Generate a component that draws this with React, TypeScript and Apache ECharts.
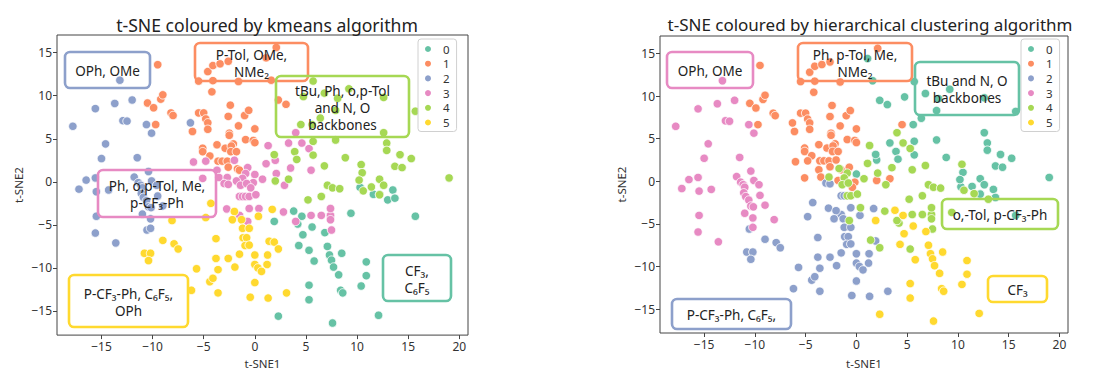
import React, { useEffect, useRef } from 'react';
import * as echarts from 'echarts';

// each point: [t-SNE1, t-SNE2, hierarchical cluster label]
type P = [number, number, number];

const clusterNames = ['0', '1', '2', '3', '4', '5'];
const colors = ['#66c2a5', '#fc8d62', '#8da0cb', '#e78ac3', '#a6d854', '#ffd92f'];
const xTicks = [-15, -10, -5, 0, 5, 10, 15, 20];
const yTicks = [-15, -10, -5, 0, 5, 10, 15];

// kmeans cluster 0
const km0: P[] = [
  [10.3, -0.65, 0], [11.6, -1.45, 4], [12.2, -1.45, 0], [13.0, -2.1, 4], [13.5, -0.95, 0],
  [13.7, -1.9, 0], [15.7, -4.0, 0], [9.4, -3.65, 4], [3.8, -3.4, 5], [4.6, -4.0, 5],
  [1.9, -4.6, 5], [5.6, -5.25, 5], [6.85, -5.9, 5], [4.2, -4.9, 4], [4.3, -7.4, 5],
  [4.7, -6.15, 5], [5.3, -7.95, 4], [5.8, -9.2, 5], [7.1, -7.5, 5], [7.3, -8.5, 5],
  [7.5, -9.1, 5], [7.7, -9.9, 5], [8.2, -10.8, 5], [8.5, -8.3, 5], [8.4, -12.6, 5],
  [8.6, -12.9, 5], [5.3, -12.0, 5], [5.3, -13.7, 5], [2.3, -15.6, 5], [7.6, -16.4, 5],
  [10.9, -9.3, 5], [10.9, -10.9, 5], [10.4, -12.1, 5], [12.1, -15.5, 5],
];

// kmeans cluster 1
const km1: P[] = [
  [-9.5, 13.6, 1], [-5.5, 11.7, 1], [-4.6, 12.8, 1], [-4.1, 13.5, 1], [-3.4, 13.7, 1],
  [-2.6, 14.0, 1], [-4.1, 11.75, 1], [-4.2, 10.45, 1], [-1.6, 11.65, 1], [1.1, 14.4, 0],
  [2.1, 15.6, 1], [1.6, 11.8, 0], [2.3, 9.5, 0], [3.05, 9.0, 0], [-10.5, 9.15, 1],
  [-9.9, 8.6, 1], [-9.2, 9.6, 1], [-9.0, 10.1, 1], [-8.2, 8.0, 1], [-8.0, 7.7, 1],
  [-9.7, 6.65, 1], [-6.1, 5.85, 1], [-5.5, 8.0, 1], [-5.0, 8.0, 1], [-4.8, 7.3, 1],
  [-4.6, 6.85, 1], [-4.6, 6.1, 1], [-2.6, 7.6, 1], [-2.4, 8.9, 1], [-1.6, 6.5, 1],
  [-1.0, 7.7, 1], [-0.6, 8.3, 1], [0.0, 6.15, 1], [-2.5, 5.65, 1], [-2.5, 5.4, 1],
  [-2.1, 4.4, 1], [-3.7, 4.3, 1], [-5.1, 3.9, 1], [-5.1, 3.5, 1], [-4.4, 3.0, 1],
  [-2.9, 3.9, 1], [-2.3, 4.15, 1], [-2.35, 3.5, 1], [-1.8, 3.5, 1], [-0.9, 4.9, 1],
  [-0.15, 4.8, 1], [0.0, 4.55, 1], [-3.6, 2.4, 1], [-3.2, 2.4, 1], [-2.7, 2.4, 1],
  [-2.6, 1.7, 1], [-1.7, 1.5, 4], [-1.5, 1.35, 1],
];

// kmeans cluster 2
const km2: P[] = [
  [-13.2, 11.8, 3], [-15.6, 8.5, 3], [-13.7, 9.1, 3], [-12.0, 9.5, 3], [-17.8, 6.45, 3],
  [-12.9, 7.1, 3], [-12.5, 7.05, 3], [-10.6, 6.65, 3], [-10.1, 5.65, 3], [-6.3, 6.85, 1],
  [-15.0, 2.7, 3], [-14.6, 4.4, 3], [-11.5, 2.8, 3], [-16.5, 0.2, 3], [-15.6, 0.45, 3],
  [-17.2, -0.85, 3], [-15.5, -1.15, 3], [-14.3, -0.95, 3], [-15.5, -4.0, 3], [-15.6, -5.95, 3],
  [-13.6, -7.1, 3], [-10.55, -5.6, 2], [-10.2, -5.4, 3], [-11.8, 0.55, 3], [-11.4, -0.1, 3],
  [-11.15, -0.4, 3], [-11.0, -0.7, 3], [-11.1, -1.35, 3], [-10.9, -1.8, 3], [-10.6, -2.2, 3],
  [-10.4, -2.9, 3], [-10.15, -3.0, 3], [-11.0, -3.75, 3], [-10.2, -4.3, 3], [-10.4, 1.2, 3],
  [-10.1, 0.1, 3], [-9.6, -0.4, 3], [-9.5, -1.65, 3], [-9.0, -2.8, 3],
];

// kmeans cluster 3
const km3: P[] = [
  [-6.0, 2.3, 1], [-4.8, 2.4, 1], [-3.7, 1.35, 1], [-2.0, 2.5, 1], [-0.7, 1.65, 1],
  [1.3, 4.2, 4], [1.1, 2.1, 4], [2.0, 2.5, 0], [3.3, 4.5, 0], [4.0, 5.7, 4],
  [4.6, 4.5, 4], [5.3, 3.85, 4], [5.5, 1.35, 4], [3.5, 1.6, 4], [2.1, 0.96, 4],
  [-0.9, 0.96, 4], [0.0, 0.85, 0], [-1.2, 0.4, 4], [-0.15, -0.1, 1], [-5.1, 0.4, 1],
  [-3.5, 0.5, 1], [-2.7, 0.5, 4], [-3.0, -0.2, 2], [-2.6, -0.3, 2], [-1.8, 0.1, 1],
  [-1.4, -0.4, 4], [-0.8, -0.2, 4], [0.75, 0.3, 4], [2.9, -0.4, 4], [-0.4, -0.7, 1],
  [-1.5, -1.7, 2], [-1.2, -1.7, 2], [-0.9, -1.7, 4], [-0.55, -1.7, 4], [0.1, -1.5, 4],
  [-2.75, -3.15, 2], [-0.55, -3.1, 2], [0.4, -3.1, 4], [-1.5, -3.9, 2], [-0.7, -4.6, 4],
  [2.8, -3.5, 4], [4.0, -4.6, 4], [5.5, -3.9, 4], [6.5, -3.9, 4], [7.4, -3.9, 4],
  [7.4, -4.4, 4], [7.4, -3.1, 4], [7.5, -5.6, 4],
];

// kmeans cluster 4
const km4: P[] = [
  [5.7, 11.7, 0], [4.75, 9.9, 0], [6.8, 10.3, 0], [8.1, 9.7, 0], [9.2, 10.8, 0],
  [12.6, 9.8, 0], [15.7, 8.2, 0], [6.4, 7.4, 0], [7.9, 8.3, 0], [4.5, 6.65, 1],
  [5.6, 6.65, 0], [1.9, 3.15, 0], [2.0, 0.1, 1], [3.3, 0.3, 1], [3.9, 3.5, 0],
  [4.1, 2.6, 0], [5.7, 3.1, 0], [5.7, 4.7, 0], [7.9, 4.85, 0], [8.85, 2.8, 0],
  [6.8, 1.85, 4], [7.1, -0.4, 4], [7.6, -0.7, 4], [8.3, -0.8, 4], [6.5, -1.7, 4],
  [5.2, -2.1, 4], [10.4, 2.0, 4], [10.5, 1.05, 0], [10.2, 0.2, 0], [10.6, -1.05, 4],
  [11.4, -0.6, 0], [12.2, 0.3, 0], [12.6, -0.4, 0], [12.2, -1.5, 0], [12.6, 5.7, 0],
  [12.9, 4.5, 0], [12.9, 3.65, 0], [14.2, 3.15, 0], [15.3, 2.7, 0], [13.7, 1.8, 0],
  [14.4, 1.65, 0], [19.0, 0.45, 0],
];

// kmeans cluster 5
const km5: P[] = [
  [-4.3, -2.5, 2], [-4.8, -4.15, 2], [-8.1, -4.5, 3], [-2.0, -3.45, 2], [-2.2, -4.4, 2],
  [-1.3, -4.4, 2], [0.35, -4.0, 2], [1.7, -3.2, 2], [-9.0, -6.8, 2], [-7.9, -7.2, 2],
  [-7.5, -7.8, 2], [-10.8, -8.3, 2], [-10.2, -8.3, 2], [-10.4, -9.15, 2], [-5.7, -10.1, 2],
  [-6.2, -12.6, 2], [-4.4, -11.6, 2], [-4.1, -11.2, 2], [-3.6, -10.2, 2], [-3.6, -12.9, 2],
  [-3.8, -8.9, 2], [-3.8, -6.6, 2], [-2.6, -8.9, 2], [-1.95, -9.9, 2], [-1.5, -8.4, 2],
  [-1.15, -6.5, 2], [-0.8, -6.5, 2], [-0.95, -7.4, 2], [-0.55, -7.35, 2], [0.0, -8.5, 2],
  [0.0, -9.6, 2], [0.3, -10.0, 2], [0.65, -10.4, 2], [0.0, -11.7, 2], [-0.45, -13.4, 2],
  [1.25, -8.5, 2], [1.2, -9.6, 2], [1.3, -13.5, 2], [1.4, -6.9, 4], [1.9, -7.0, 2],
  [2.3, -7.8, 4], [3.1, -12.9, 2], [-1.2, -5.4, 2], [-0.55, -5.4, 2],
];

const kmeansClusters = [km0, km1, km2, km3, km4, km5];

const leftTitle = 't-SNE coloured by kmeans algorithm';
const rightTitle = 't-SNE coloured by hierarchical clustering algorithm';
const xName = 't-SNE1';
const yName = 't-SNE2';

// annotation texts and the cluster colour of their frame
const leftNotes: [string, number][] = [
  ['OPh, OMe', 2],
  ['P-Tol, OMe,\nNMe₂', 1],
  ['tBu, Ph, o,p-Tol\nand N, O\nbackbones', 4],
  ['Ph, o,p-Tol, Me,\np-CF₃-Ph', 3],
  ['P-CF₃-Ph, C₆F₅,\nOPh', 5],
  ['CF₃,\nC₆F₅', 0],
];
const rightNotes: [string, number][] = [
  ['OPh, OMe', 3],
  ['Ph, p-Tol, Me,\nNMe₂', 1],
  ['tBu and N, O\nbackbones', 0],
  ['o,-Tol, p-CF₃-Ph', 4],
  ['P-CF₃-Ph, C₆F₅,', 2],
  ['CF₃', 5],
];

// layout of annotation frames (pixels): x, y, w, h
const leftBoxes = [
  [65, 52, 85, 36], [195, 43, 113, 38], [276, 76, 133, 61],
  [98, 170, 118, 47], [69, 275, 119, 52], [383, 255, 68, 46],
];
const rightBoxes = [
  [667, 52, 86, 36], [798, 43, 114, 38], [915, 62, 104, 53],
  [942, 199, 116, 30], [672, 299, 119, 30], [988, 276, 59, 26],
];

const FONT = '"Noto Sans", "DejaVu Sans", sans-serif';
const fmt = (v: number) => (v < 0 ? '\u2212' + Math.abs(v) : String(v));

function axisX(gridIndex: number, gap: number) {
  return {
    type: 'value', gridIndex, min: -19.35, max: 20.85,
    axisLine: { show: false, onZero: false },
    axisTick: { show: true, length: 4, customValues: xTicks, lineStyle: { color: '#444' } },
    axisLabel: { customValues: xTicks, formatter: fmt, fontSize: 12, color: '#333', margin: 5, fontFamily: FONT },
    splitLine: { show: false },
    name: xName, nameLocation: 'middle', nameGap: gap,
    nameTextStyle: { fontSize: 11.5, color: '#333', fontFamily: FONT },
  };
}
function axisY(gridIndex: number) {
  return {
    type: 'value', gridIndex, min: -17.8, max: 17.05,
    axisLine: { show: false, onZero: false },
    axisTick: { show: true, length: 4, customValues: yTicks, lineStyle: { color: '#444' } },
    axisLabel: { customValues: yTicks, formatter: fmt, fontSize: 12, color: '#333', margin: 5, fontFamily: FONT },
    splitLine: { show: false },
    name: yName, nameLocation: 'middle', nameGap: 33,
    nameTextStyle: { fontSize: 11.5, color: '#333', fontFamily: FONT },
  };
}

function notesGraphic(notes: [string, number][], boxes: number[][]) {
  const out: any[] = [];
  notes.forEach(([text, c], i) => {
    const [x, y, w, h] = boxes[i];
    out.push({
      type: 'rect', z: 100,
      shape: { x, y, width: w, height: h, r: 5 },
      style: { fill: 'none', stroke: colors[c], lineWidth: 2.6 },
    });
    out.push({
      type: 'text', z: 101, x: x + w / 2, y: y + h / 2 + 1,
      style: {
        text, fill: '#222', fontSize: 13.5, fontFamily: FONT,
        align: 'center', verticalAlign: 'middle', lineHeight: 17,
      },
    });
  });
  return out;
}

function legendAt(left: number) {
  return {
    orient: 'vertical', left, top: 39, data: clusterNames,
    icon: 'circle', itemWidth: 8, itemHeight: 14, itemGap: 2.7,
    padding: [4, 7, 3, 5],
    backgroundColor: 'rgba(255,255,255,0.85)', borderColor: '#d0d0d0', borderWidth: 1, borderRadius: 3,
    textStyle: { fontSize: 11.5, color: '#333', fontFamily: FONT, padding: [0, 0, 0, 6] },
    selectedMode: false,
  };
}

export default function App() {
  const ref = useRef<HTMLDivElement>(null);
  useEffect(() => {
    if (!ref.current) return;
    const chart = echarts.init(ref.current, null, { renderer: 'svg' });
    const all = kmeansClusters.flat();
    const point = { symbol: 'circle', symbolSize: 8.5 };
    const series: any[] = [];
    kmeansClusters.forEach((pts, i) => {
      series.push({
        type: 'scatter', name: clusterNames[i], xAxisIndex: 0, yAxisIndex: 0, ...point,
        data: pts.map((p) => [p[0], p[1]]),
        itemStyle: { color: colors[i], borderColor: '#fff', borderWidth: 0.8, opacity: 1 },
      });
    });
    clusterNames.forEach((n, i) => {
      series.push({
        type: 'scatter', name: n, xAxisIndex: 1, yAxisIndex: 1, ...point,
        data: all.filter((p) => p[2] === i).map((p) => [p[0], p[1]]),
        itemStyle: { color: colors[i], borderColor: '#fff', borderWidth: 0.8, opacity: 1 },
      });
    });
    chart.setOption({
      animation: false,
      backgroundColor: '#fff',
      title: [
        { text: leftTitle, left: 262, top: 11, textAlign: 'center',
          textStyle: { fontSize: 17.6, fontWeight: 'normal', color: '#222', fontFamily: FONT } },
        { text: rightTitle, left: 865, top: 11, textAlign: 'center',
          textStyle: { fontSize: 17, fontWeight: 'normal', color: '#222', fontFamily: FONT } },
      ],
      grid: [
        { left: 57, top: 35, width: 411, height: 304, show: true, borderColor: '#444', borderWidth: 1 },
        { left: 660, top: 36, width: 408, height: 306, show: true, borderColor: '#444', borderWidth: 1 },
      ],
      xAxis: [axisX(0, 20), axisX(1, 24)],
      yAxis: [axisY(0), axisY(1)],
      legend: [legendAt(418), legendAt(1021)],
      series,
      graphic: [...notesGraphic(leftNotes, leftBoxes), ...notesGraphic(rightNotes, rightBoxes)],
    });
    return () => chart.dispose();
  }, []);
  return (
    <div
      ref={ref}
      style={{ position: 'fixed', left: 0, top: 0, width: 1093, height: 374 }}
    />
  );
}
